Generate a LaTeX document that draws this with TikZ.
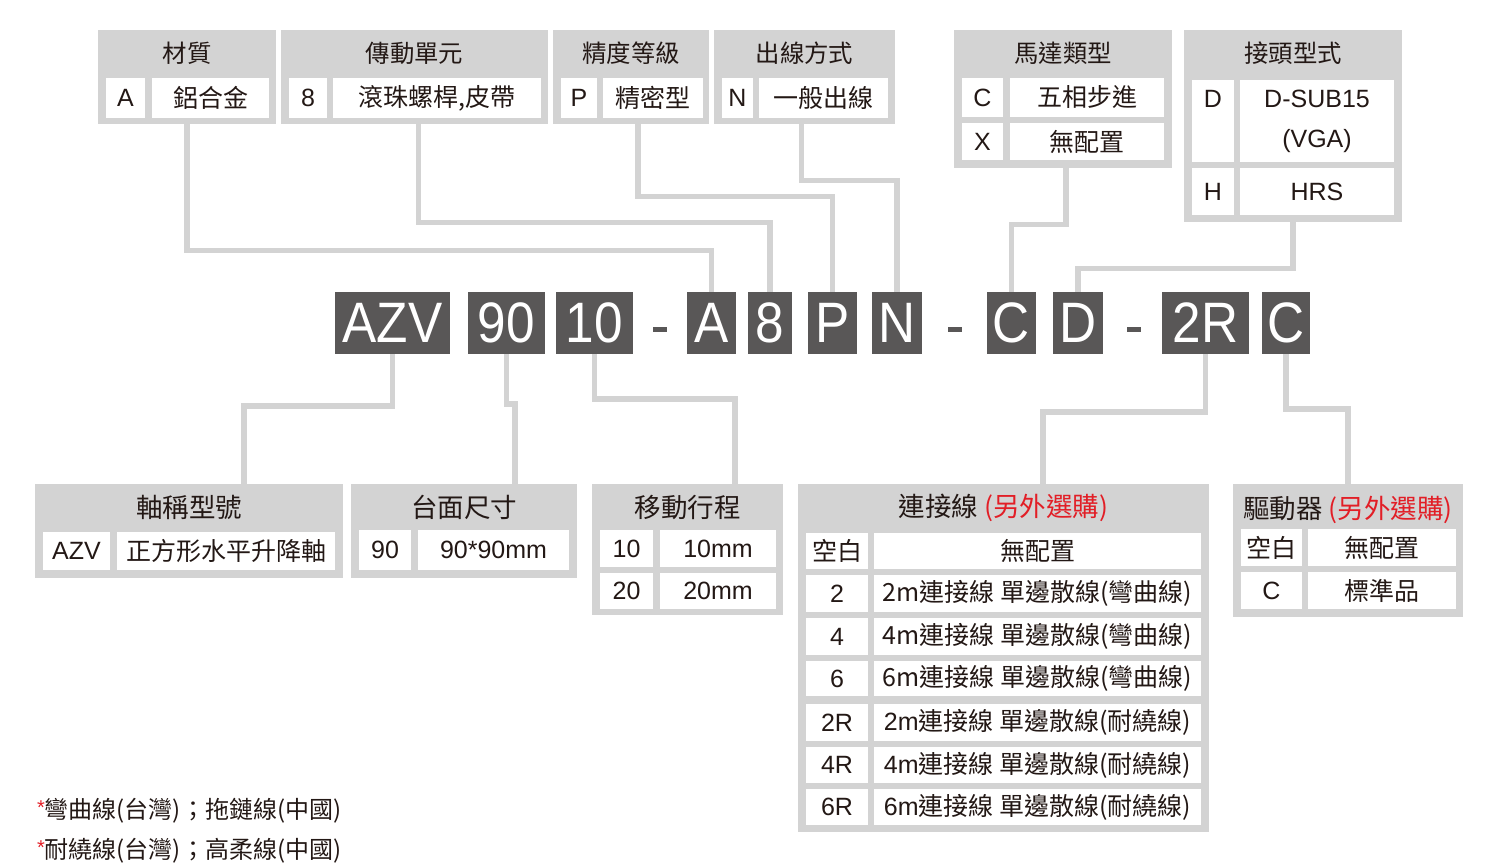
\documentclass[tikz,border=0pt]{standalone}
\usepackage{fontspec}
\usepackage{tikz, color}
\setmainfont{Liberation Sans}
\newfontfamily\zh{Noto Sans CJK TC}
\newfontfamily\codefont[FakeStretch=0.9]{Liberation Sans}
\usetikzlibrary{positioning, fit, calc}
\definecolor{panelgray}{RGB}{211,211,211}
\definecolor{codegray}{RGB}{89,87,87}
\definecolor{ink}{RGB}{35,24,21}
\definecolor{optred}{RGB}{226,30,38}
\tikzset{
  ordering/.style={
	x=0.5pt, y=-0.5pt, % one unit is one pixel of the sheet, y runs downwards
	panel/.style={fill=panelgray, inner sep=0pt}, % grey frame of one group
	valbox/.style={fill=white, inner sep=0pt}, % white cell
	valtext/.style={text=ink, align=center, inner sep=0pt, font=\fontsize{12.5}{20}\selectfont},
	grouphead/.style={text=ink, font=\zh\fontsize{12.2}{15}\selectfont},
	bighead/.style={text=ink, font=\zh\fontsize{13.25}{16}\selectfont},
	codebox/.style={fill=codegray, inner sep=0pt},
	codetext/.style={text=white, inner sep=0pt, font=\codefont\fontsize{28.5}{30}\selectfont},
	hyph/.style={fill=codegray, inner sep=0pt, minimum width=7pt, minimum height=2.5pt},
	wire/.style={draw=panelgray, line width=2.8pt, line join=miter}, % grey connector
  }
}
\begin{document}
\begin{tikzpicture}[ordering]
	\useasboundingbox (0,0) rectangle (1508,867);

	% the order code
	\node[codebox, fit={(335,292) (450,354)}] (k1) {};   \node[codetext] (k1t) at (k1) {AZV};
	\node[codebox, fit={(468,292) (545,354)}] (k2) {};   \node[codetext] (k2t) at (k2) {90};
	\node[codebox, fit={(556,292) (633,354)}] (k3) {};   \node[codetext] (k3t) at (k3) {10};
	\node[hyph] (h1) at (660,329) {};
	\node[codebox, fit={(687,292) (736,354)}] (k4) {};   \node[codetext] (k4t) at (k4) {A};
	\node[codebox, fit={(748,292) (792,354)}] (k5) {};   \node[codetext] (k5t) at (k5) {8};
	\node[codebox, fit={(808,292) (857,354)}] (k6) {};   \node[codetext] (k6t) at (k6) {P};
	\node[codebox, fit={(872,292) (922,354)}] (k7) {};   \node[codetext] (k7t) at (k7) {N};
	\node[hyph] (h2) at (955,329) {};
	\node[codebox, fit={(987,292) (1036,354)}] (k8) {};  \node[codetext] (k8t) at (k8) {C};
	\node[codebox, fit={(1053,292) (1103,354)}] (k9) {}; \node[codetext] (k9t) at (k9) {D};
	\node[hyph] (h3) at (1134,329) {};
	\node[codebox, fit={(1162,292) (1249,354)}] (k10) {}; \node[codetext] (k10t) at (k10) {2R};
	\node[codebox, fit={(1262,292) (1310,354)}] (k11) {}; \node[codetext] (k11t) at (k11) {C};

	% upper groups
	\node[panel, fit={(98,30) (276,124)}] (p4) {};
	\node[grouphead] (t4) at ([yshift=-12pt]p4.north) {材質};
	\node[valbox, fit={(106,78) (145,118)}] (p4a) {};  \node[valtext] (p4at) at (p4a) {A};
	\node[valbox, fit={(152,78) (269,118)}] (p4b) {};  \node[valtext] (p4bt) at (p4b) {\zh 鋁合金};

	\node[panel, fit={(281,30) (548,124)}] (p5) {};
	\node[grouphead] (t5) at ([yshift=-12pt]p5.north) {傳動單元};
	\node[valbox, fit={(289,78) (327,118)}] (p5a) {};  \node[valtext] (p5at) at (p5a) {8};
	\node[valbox, fit={(333,78) (541,118)}] (p5b) {};  \node[valtext] (p5bt) at (p5b) {\zh 滾珠螺桿,皮帶};

	\node[panel, fit={(553,30) (709,124)}] (p6) {};
	\node[grouphead] (t6) at ([yshift=-12pt]p6.north) {精度等級};
	\node[valbox, fit={(561,78) (597,118)}] (p6a) {};  \node[valtext] (p6at) at (p6a) {P};
	\node[valbox, fit={(603,78) (703,118)}] (p6b) {};  \node[valtext] (p6bt) at (p6b) {\zh 精密型};

	\node[panel, fit={(714,30) (895,124)}] (p7) {};
	\node[grouphead] (t7) at ([yshift=-12pt]p7.north) {出線方式};
	\node[valbox, fit={(722,78) (753,118)}] (p7a) {};  \node[valtext] (p7at) at (p7a) {N};
	\node[valbox, fit={(759,78) (888,118)}] (p7b) {};  \node[valtext] (p7bt) at (p7b) {\zh 一般出線};

	\node[panel, fit={(954,30) (1172,168)}] (p8) {};
	\node[grouphead] (t8) at ([yshift=-12pt]p8.north) {馬達類型};
	\node[valbox, fit={(962,78) (1003,117)}] (p8a) {};   \node[valtext] (p8at) at (p8a) {C};
	\node[valbox, fit={(1010,78) (1164,117)}] (p8b) {};  \node[valtext] (p8bt) at (p8b) {\zh 五相步進};
	\node[valbox, fit={(962,123) (1003,160)}] (p8c) {};  \node[valtext] (p8ct) at (p8c) {X};
	\node[valbox, fit={(1010,123) (1164,160)}] (p8d) {}; \node[valtext] (p8dt) at (p8d) {\zh 無配置};

	\node[panel, fit={(1184,30) (1402,222)}] (p9) {};
	\node[grouphead] (t9) at ([yshift=-12pt]p9.north) {接頭型式};
	\node[valbox, fit={(1192,80) (1234,162)}] (p9a) {};  \node[valtext] (p9at) at (p9a) {D\\\vphantom{(VGA)}};
	\node[valbox, fit={(1240,80) (1394,162)}] (p9b) {};  \node[valtext] (p9bt) at (p9b) {D-SUB15\\(VGA)};
	\node[valbox, fit={(1192,168) (1234,215)}] (p9c) {}; \node[valtext] (p9ct) at (p9c) {H};
	\node[valbox, fit={(1240,168) (1394,215)}] (p9d) {}; \node[valtext] (p9dt) at (p9d) {HRS};

	% lower groups
	\node[panel, fit={(35,484) (343,578)}] (p1) {};
	\node[bighead] (t1) at ([yshift=-12pt]p1.north) {軸稱型號};
	\node[valbox, fit={(43,532) (110,570)}] (p1a) {};   \node[valtext] (p1at) at (p1a) {AZV};
	\node[valbox, fit={(117,532) (335,570)}] (p1b) {};  \node[valtext] (p1bt) at (p1b) {\zh 正方形水平升降軸};

	\node[panel, fit={(351,484) (577,578)}] (p2) {};
	\node[bighead] (t2) at ([yshift=-12pt]p2.north) {台面尺寸};
	\node[valbox, fit={(359,530) (411,570)}] (p2a) {};  \node[valtext] (p2at) at (p2a) {90};
	\node[valbox, fit={(418,530) (569,570)}] (p2b) {};  \node[valtext] (p2bt) at (p2b) {90*90mm};

	\node[panel, fit={(592,484) (783,615)}] (p3) {};
	\node[bighead] (t3) at ([yshift=-12pt]p3.north) {移動行程};
	\node[valbox, fit={(600,530) (653,567)}] (p3a) {};  \node[valtext] (p3at) at (p3a) {10};
	\node[valbox, fit={(660,530) (776,567)}] (p3b) {};  \node[valtext] (p3bt) at (p3b) {10mm};
	\node[valbox, fit={(600,573) (653,609)}] (p3c) {};  \node[valtext] (p3ct) at (p3c) {20};
	\node[valbox, fit={(660,573) (776,609)}] (p3d) {};  \node[valtext] (p3dt) at (p3d) {20mm};

	\node[panel, fit={(798,484) (1209,832)}] (p10) {};
	\node[bighead] (t10) at ([yshift=-12pt]p10.north) {連接線 \textcolor{optred}{(另外選購)}};
	\node[valbox, fit={(806,533) (868,569)}] (p10a) {};   \node[valtext] (p10at) at (p10a) {\zh 空白};
	\node[valbox, fit={(874,533) (1201,569)}] (p10b) {};  \node[valtext] (p10bt) at (p10b) {\zh 無配置};
	\node[valbox, fit={(806,575) (868,612)}] (p10c) {};   \node[valtext] (p10ct) at (p10c) {2};
	\node[valbox, fit={(874,575) (1201,612)}] (p10d) {};  \node[valtext] (p10dt) at (p10d) {\zh 2m連接線 單邊散線(彎曲線)};
	\node[valbox, fit={(806,618) (868,655)}] (p10e) {};   \node[valtext] (p10et) at (p10e) {4};
	\node[valbox, fit={(874,618) (1201,655)}] (p10f) {};  \node[valtext] (p10ft) at (p10f) {\zh 4m連接線 單邊散線(彎曲線)};
	\node[valbox, fit={(806,661) (868,696)}] (p10g) {};   \node[valtext] (p10gt) at (p10g) {6};
	\node[valbox, fit={(874,661) (1201,696)}] (p10h) {};  \node[valtext] (p10ht) at (p10h) {\zh 6m連接線 單邊散線(彎曲線)};
	\node[valbox, fit={(806,704) (868,741)}] (p10i) {};   \node[valtext] (p10it) at (p10i) {2R};
	\node[valbox, fit={(874,704) (1201,741)}] (p10j) {};  \node[valtext] (p10jt) at (p10j) {2m{\zh 連接線 單邊散線(耐繞線)}};
	\node[valbox, fit={(806,747) (868,783)}] (p10k) {};   \node[valtext] (p10kt) at (p10k) {4R};
	\node[valbox, fit={(874,747) (1201,783)}] (p10l) {};  \node[valtext] (p10lt) at (p10l) {4m{\zh 連接線 單邊散線(耐繞線)}};
	\node[valbox, fit={(806,789) (868,825)}] (p10m) {};   \node[valtext] (p10mt) at (p10m) {6R};
	\node[valbox, fit={(874,789) (1201,825)}] (p10n) {};  \node[valtext] (p10nt) at (p10n) {6m{\zh 連接線 單邊散線(耐繞線)}};

	\node[panel, fit={(1233,484) (1463,617)}] (p11) {};
	\node[bighead] (t11) at ([yshift=-13pt]p11.north) {驅動器 \textcolor{optred}{(另外選購)}};
	\node[valbox, fit={(1241,529) (1302,566)}] (p11a) {};  \node[valtext] (p11at) at (p11a) {\zh 空白};
	\node[valbox, fit={(1308,529) (1456,566)}] (p11b) {};  \node[valtext] (p11bt) at (p11b) {\zh 無配置};
	\node[valbox, fit={(1241,572) (1302,609)}] (p11c) {};  \node[valtext] (p11ct) at (p11c) {C};
	\node[valbox, fit={(1308,572) (1456,609)}] (p11d) {};  \node[valtext] (p11dt) at (p11d) {\zh 標準品};

	% notes
	\node[anchor=west, text=ink, font=\zh\fontsize{12}{15}\selectfont] (n1) at (30,811)
		{\textcolor{optred}{\raisebox{2pt}{\normalfont\fontsize{10}{10}\selectfont *}}彎曲線(台灣)；拖鏈線(中國)};
	\node[anchor=west, text=ink, font=\zh\fontsize{12}{15}\selectfont] (n2) at (30,851)
		{\textcolor{optred}{\raisebox{2pt}{\normalfont\fontsize{10}{10}\selectfont *}}耐繞線(台灣)；高柔線(中國)};

	% connectors from the upper groups
	\draw[wire] (p4.south) -- ++(0,126) -| (k4.north);
	\draw[wire] ([xshift=2pt]p5.south) -- ++(0,98) -| (k5.north);
	\draw[wire] ([xshift=3.5pt]p6.south) -- ++(0,72) -| (k6.north);
	\draw[wire] ([xshift=-1.5pt]p7.south) -- ++(0,56) -| (k7.north);
	\draw[wire] ([xshift=1.5pt]p8.south) -- ++(0,56) -| (k8.north);
	\draw[wire] (p9.south) -- ++(0,46) -| (k9.north);

	% connectors to the lower groups
	\coordinate (j1) at (244,406);
	\coordinate (j2) at (515,404);
	\coordinate (j3) at (735,399);
	\coordinate (j10) at (1043,412);
	\coordinate (j11) at (1348,409);
	\draw[wire] (k1.south) |- (j1) -- (j1 |- p1.north);
	\draw[wire] (k2.south) |- (j2) -- (j2 |- p2.north);
	\draw[wire] (k3.south) |- (j3) -- (j3 |- p3.north);
	\draw[wire] (k10.south) |- (j10) -- (j10 |- p10.north);
	\draw[wire] (k11.south) |- (j11) -- (j11 |- p11.north);
\end{tikzpicture}
\end{document}
